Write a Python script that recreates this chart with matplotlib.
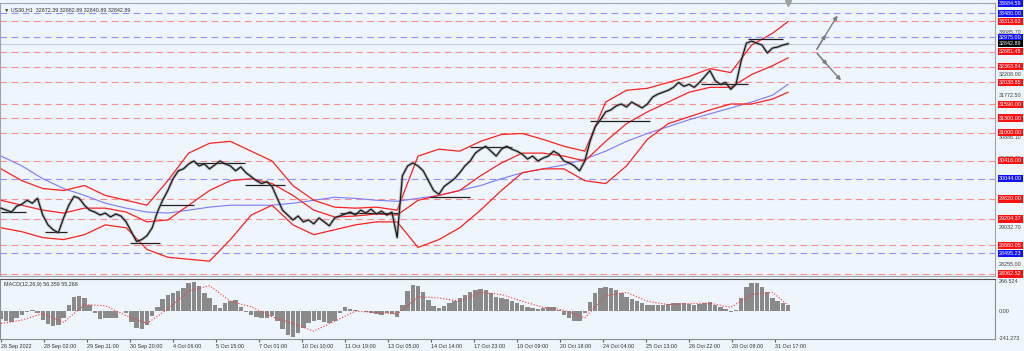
import numpy as np
import matplotlib.pyplot as plt
import matplotlib.transforms as mtransforms

plt.rcParams['font.family'] = ['Liberation Sans', 'DejaVu Sans']

bars = np.arange(0, 605, 4)
close = [29429, 29388, 29348, 29470, 29511, 29592, 29531, 29633, 29286, 29082,
         28980, 28919, 29225, 29490, 29674, 29633, 29490, 29388, 29348, 29286,
         29327, 29246, 29307, 29266, 29144, 28940, 28736, 28776, 28858, 29021,
         29348, 29592, 29796, 30041, 30204, 30245, 30347, 30408, 30306, 30347,
         30245, 30327, 30408, 30347, 30306, 30204, 30286, 30164, 30082, 30000,
         29939, 29980, 29878, 29633, 29388, 29286, 29184, 29266, 29144, 29184,
         29103, 29225, 29144, 29062, 29225, 29266, 29307, 29348, 29286, 29388,
         29327, 29409, 29307, 29368, 29286, 29348, 28817, 30102, 30306, 30368,
         30306, 30204, 30000, 29796, 29715, 29878, 29960, 30041, 30164, 30306,
         30408, 30572, 30653, 30714, 30612, 30510, 30653, 30714, 30653, 30612,
         30551, 30449, 30510, 30408, 30470, 30510, 30612, 30551, 30408, 30368,
         30306, 30204, 30408, 30816, 31122, 31265, 31428, 31469, 31551, 31592,
         31530, 31632, 31571, 31510, 31592, 31734, 31796, 31836, 31877, 31938,
         32040, 31959, 32000, 31938, 32040, 32163, 32285, 32081, 32000, 32040,
         31898, 32000, 32489, 32856, 32897, 32856, 32816, 32652, 32754, 32775,
         32816, 32843]

macd = [-70, -90, -95, -60, -30, -5, 15, -20, -80, -115,
        -130, -125, -60, 60, 130, 140, 120, 60, -20, -70,
        -60, -65, -60, 5, -20, -100, -150, -160, -120, -40,
        40, 110, 145, 160, 180, 210, 250, 265, 230, 160,
        120, 60, 30, 75, 95, 100, 40, -10, -30, -50,
        -60, -60, -40, -90, -160, -215, -235, -200, -150, -110,
        -90, -80, -95, -110, -85, -20, 40, 20, 10, 5,
        -10, -15, -25, -30, -20, -25, -55, 60, 180, 240,
        230, 170, 100, 50, 30, 50, 70, 90, 120, 150,
        175, 195, 200, 195, 160, 130, 120, 110, 95, 75,
        55, 40, 30, 20, 25, 40, 35, 10, -30, -60,
        -85, -90, -20, 80, 160, 205, 215, 210, 190, 160,
        130, 110, 90, 70, 60, 55, 60, 60, 65, 70,
        75, 70, 65, 60, 65, 75, 80, 60, 40, 20,
        -5, 10, 120, 220, 255, 250, 220, 170, 120, 95,
        70, 56]

# indicators, every 16 bars
ind_x = [0, 16, 32, 48, 64, 80, 96, 112, 128, 144, 160, 176, 192, 208, 224, 240,
         256, 272, 288, 304, 320, 336, 352, 368, 384, 400, 416, 432, 448, 464,
         480, 496, 512, 528, 544, 560, 576, 592, 604]
bb_upper = [30245, 30000, 29837, 29796, 29898, 29694, 29592, 29490, 30000, 30572,
            30776, 30816, 30612, 30408, 29898, 29592, 29450, 29429, 29450, 29388,
            30510, 30653, 30612, 30816, 30959, 30980, 30857, 30714, 30612, 31632,
            31877, 31918, 32040, 32163, 32326, 32244, 32816, 33060, 33305]
bb_mid = [29592, 29490, 29388, 29327, 29429, 29429, 29348, 29144, 29184, 29490,
          29796, 30000, 30041, 29939, 29694, 29388, 29246, 29266, 29307, 29286,
          29592, 29694, 29796, 30102, 30368, 30572, 30572, 30510, 30408, 30816,
          31184, 31428, 31632, 31836, 31938, 31938, 32204, 32387, 32550]
bb_lower = [29021, 28940, 28817, 28776, 28878, 29082, 29021, 28572, 28409, 28368,
            28328, 28776, 29286, 29490, 29082, 28878, 28980, 29082, 29144, 29144,
            28613, 28776, 29021, 29388, 29796, 30164, 30245, 30245, 30000, 29939,
            30306, 30857, 31184, 31326, 31469, 31592, 31592, 31694, 31836]
ma_blue = [30510, 30306, 30041, 29837, 29694, 29531, 29429, 29348, 29327, 29388,
           29450, 29490, 29490, 29490, 29531, 29592, 29654, 29633, 29592, 29572,
           29633, 29694, 29796, 29898, 30041, 30164, 30245, 30327, 30449, 30612,
           30816, 30980, 31122, 31265, 31388, 31510, 31632, 31775, 32000]
signal = [-110, -80, -20, -100, 60, 50, -40, -110, 20, 180,
          230, 90, 40, -50, -110, -180, -90, 0, -10, -25,
          130, 120, 90, 170, 150, 90, 35, 10, -60, 140,
          170, 90, 60, 70, 72, 35, 150, 170, 55]

# horizontal levels
red_levels = [33313.63, 32681.45, 32363.84, 32038.85, 31590.00, 31300.00,
              31000.00, 30416.00, 29620.00, 29204.37, 28660.05, 28062.52]
blue_levels = [33480.00, 32975.00, 30044.00, 28495.23]
top_level = 33684.59
last_price = 32842.89
tick_prices = [33085.70, 32208.00, 31772.50, 30886.10, 30452.70, 29032.70, 28255.00]

# black range segments
seg_start = [0, 34, 99, 122, 149, 187, 260, 329, 360, 452, 537, 573]
seg_end = [19, 51, 122, 148, 187, 218, 305, 360, 392, 498, 573, 600]
seg_price = [29349, 28934, 28705, 29494, 30367, 29910, 29328, 29660, 30699, 31239, 32008, 32942]

# forecast arrows
fc_origin = (625, 32681.45)
fc_up = (643, 33480.00)
fc_down = (646, 32038.85)

date_pos = list(range(0, 595, 33))
date_labels = ['26 Sep 2022', '28 Sep 02:00', '29 Sep 11:00', '30 Sep 20:00', '4 Oct 06:00',
               '5 Oct 15:00', '7 Oct 01:00', '10 Oct 10:00', '11 Oct 19:00', '13 Oct 05:00',
               '14 Oct 14:00', '17 Oct 23:00', '19 Oct 09:00', '20 Oct 18:00', '24 Oct 04:00',
               '25 Oct 13:00', '26 Oct 22:00', '28 Oct 08:00', '31 Oct 17:00']

bg = '#eef5fc'
fs = 3.9
fig = plt.figure(figsize=(10.24, 3.51), dpi=100, facecolor=bg)
ax = fig.add_axes([0.0, 0.2137, 0.9717, 0.7778], facecolor=bg)
ax2 = fig.add_axes([0.0, 0.0342, 0.9717, 0.1709], facecolor=bg)

xlim = (-0.8, 762.8)
ax.set_xlim(*xlim)
ax.set_ylim(28020, 33690)

for lv in red_levels:
    ax.axhline(lv, color='#ff8c8c', lw=0.8, dashes=(6, 4), zorder=1)
for lv in blue_levels:
    ax.axhline(lv, color='#9090ff', lw=0.8, dashes=(6, 4), zorder=1)
ax.axhline(top_level, color='#8080ff', lw=0.8, ls=':', zorder=1)
ax.axhline(last_price, color='#c8ccd4', lw=0.8, zorder=1)

ax.plot(ind_x, ma_blue, color='#7a7aff', lw=0.8, zorder=2)
for band in (bb_upper, bb_mid, bb_lower):
    ax.plot(ind_x, band, color='#ff2020', lw=0.9, zorder=2)

ax.hlines(seg_price, seg_start, seg_end, color='#202020', lw=0.9, zorder=3)
ax.plot(bars, close, color='#808080', lw=2.2, alpha=0.45, zorder=3)
ax.plot(bars, close, color='#1a1a1a', lw=0.9, zorder=4)

# forecast arrows
for tip in (fc_up, fc_down):
    mid = ((fc_origin[0] + tip[0]) / 2, (fc_origin[1] + tip[1]) / 2)
    ax.annotate('', xy=tip, xytext=fc_origin,
                arrowprops=dict(arrowstyle='-|>', color='#7f7f7f', lw=1, mutation_scale=6))
    ax.annotate('', xy=mid, xytext=fc_origin,
                arrowprops=dict(arrowstyle='-|>', color='#7f7f7f', lw=1, mutation_scale=6))

ax.plot([604], [33690], marker='v', color='#a0a0a0', ms=4, clip_on=False, zorder=5)

# price labels on right
tr = mtransforms.blended_transform_factory(ax.transAxes, ax.transData)
lab = dict(transform=tr, fontsize=fs, va='center', ha='left', clip_on=False)
box = 'square,pad=0.2'
for tp in tick_prices:
    ax.text(1.004, tp, f'{tp:.2f}', color='#404040', **lab)
for lv in red_levels:
    ax.text(1.004, lv, f'{lv:.2f}', color='white',
            bbox=dict(boxstyle=box, fc='#ff1010', ec='none'), **lab)
for lv in blue_levels + [top_level]:
    ax.text(1.004, lv, f'{lv:.2f}', color='white',
            bbox=dict(boxstyle=box, fc='#1010ff', ec='none'), **lab)
ax.text(1.004, last_price, f'{last_price:.2f}', color='white',
        bbox=dict(boxstyle=box, fc='black', ec='none'), **lab)

ax.text(0.004, 0.985, '\u25bc US30,H1  32872.39 32882.89 32840.89 32842.89',
        transform=ax.transAxes, fontsize=fs, color='#303030', va='top', ha='left')

ax.set_xticks([])
ax.set_yticks([])
for s in ax.spines.values():
    s.set_color('#a0a4aa')
    s.set_linewidth(0.8)

# MACD panel
ax2.set_xlim(*xlim)
ax2.set_ylim(-250, 290)
ax2.bar(bars, macd, width=3.4, color='#8a8a8a', edgecolor='none', zorder=2)
ax2.plot(ind_x, signal, color='#ff3030', lw=0.8, ls=':', zorder=3)
ax2.text(0.004, 0.95, 'MACD(12,26,9) 56.359 55.268', transform=ax2.transAxes,
         fontsize=fs, color='#303030', va='top', ha='left')
tr2 = mtransforms.blended_transform_factory(ax2.transAxes, ax2.transData)
for v, t in [(266.524, '266.524'), (0, '0.00'), (-241.273, '-241.273')]:
    ax2.text(1.004, v, t, transform=tr2, fontsize=fs, color='#404040',
             va='center', ha='left', clip_on=False)
ax2.set_yticks([])
ax2.set_xticks(date_pos)
ax2.set_xticklabels(date_labels, fontsize=fs, color='#303030', ha='left')
ax2.tick_params(axis='x', length=2, pad=1.5, color='#606060')
for s in ax2.spines.values():
    s.set_color('#8a8e94')
    s.set_linewidth(0.8)
ax2.spines['top'].set_color('#505050')

fig.savefig('out.png', dpi=100, facecolor=bg)
